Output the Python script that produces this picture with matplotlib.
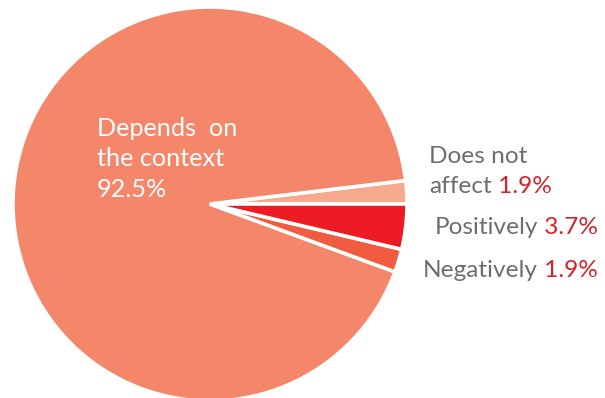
import matplotlib
matplotlib.use("Agg")
import matplotlib.pyplot as plt

labels = ["Does not affect", "Depends on the context", "Negatively", "Positively"]
values = [1.9, 92.5, 1.9, 3.7]
colors = ["#F7A98D", "#F4866A", "#F15C40", "#ED1C24"]

W, H = 605, 398
fig = plt.figure(figsize=(W / 100, H / 100), dpi=100)
ax = fig.add_axes([0, 0, 1, 1])

cx, cy, r = 210, H - 204, 197
ax.pie(values, colors=colors, startangle=0, counterclock=True,
       center=(cx, cy), radius=r, frame=True,
       wedgeprops=dict(edgecolor="white", linewidth=2.6))
ax.set_xlim(0, W)
ax.set_ylim(0, H)
ax.axis("off")

font = "Lato"
fs = 17.6
gray = "#6D6E71"
red = "#D2232A"

# inside label
for i, line in enumerate(["Depends  on", "the context", f"{values[1]}%"]):
    ax.text(97, H - (136 + 30.5 * i), line, color="white", fontsize=fs + 0.6,
            family=font, va="baseline", ha="left")

fig.canvas.draw()
renderer = fig.canvas.get_renderer()

def two_color(x, y_px, gray_txt, red_txt):
    t = ax.text(x, H - y_px, gray_txt, color=gray, fontsize=fs, family=font,
                va="baseline", ha="left")
    bb = t.get_window_extent(renderer=renderer)
    ax.text(bb.x1, H - y_px, " " + red_txt, color=red, fontsize=fs, family=font,
            va="baseline", ha="left")

ax.text(429, H - 163, "Does not", color=gray, fontsize=fs, family=font,
        va="baseline", ha="left")
two_color(429, 193, "affect", f"{values[0]}%")
two_color(435, 234, "Positively", f"{values[3]}%")
two_color(423, 277, "Negatively", f"{values[2]}%")

fig.savefig("out.png", dpi=100)
